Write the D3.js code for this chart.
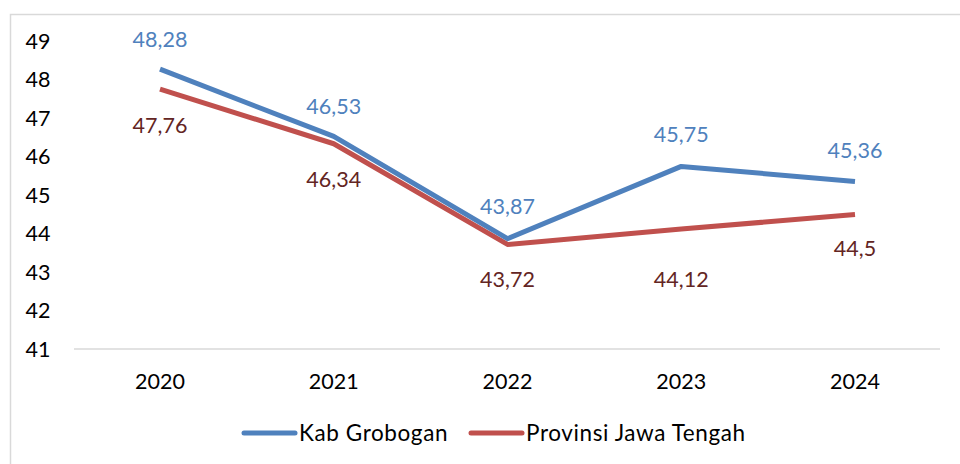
<!DOCTYPE html>
<html>
<head>
<meta charset="utf-8">
<script src="https://cdn.jsdelivr.net/npm/d3@7"></script>
<style>
  body { margin: 0; background: #fff; }
  text { font-family: Lato, "Open Sans", sans-serif; }
</style>
</head>
<body>
<svg id="chart" width="960" height="464"></svg>
<script>
var years = ["2020", "2021", "2022", "2023", "2024"];
var grobogan = [48.28, 46.53, 43.87, 45.75, 45.36];
var jateng = [47.76, 46.34, 43.72, 44.12, 44.5];
var yTicks = [41, 42, 43, 44, 45, 46, 47, 48, 49];

var fontSize = 21.5;
var svg = d3.select("#chart");

// outer chart border (runs off the right/bottom edge)
svg.append("rect")
    .attr("x", 10.5).attr("y", 14.5)
    .attr("width", 980).attr("height", 500)
    .attr("fill", "none")
    .attr("stroke", "#d9d9d9")
    .attr("stroke-width", 1.5);

var x = d3.scalePoint()
    .domain(years)
    .range([160, 855]);

var y = d3.scaleLinear()
    .domain([41, 49])
    .range([349, 41.5]);

// y labels
svg.append("g").selectAll("text")
    .data(yTicks)
    .enter().append("text")
    .attr("x", 38)
    .attr("y", function(d) { return y(d); })
    .attr("dy", "0.35em")
    .attr("text-anchor", "middle")
    .attr("font-size", fontSize)
    .attr("fill", "#000")
    .text(function(d) { return d; });

// x axis line
svg.append("line")
    .attr("x1", 74).attr("x2", 940)
    .attr("y1", y(41)).attr("y2", y(41))
    .attr("stroke", "#d9d9d9")
    .attr("stroke-width", 1.5);

svg.append("g").selectAll("text")
    .data(years)
    .enter().append("text")
    .attr("x", function(d) { return x(d); })
    .attr("y", 381)
    .attr("dy", "0.35em")
    .attr("text-anchor", "middle")
    .attr("font-size", fontSize)
    .attr("fill", "#000")
    .text(function(d) { return d; });

var line = d3.line()
    .x(function(d, i) { return x(years[i]); })
    .y(function(d) { return y(d); });

var series = [
  {name: "Kab Grobogan", values: grobogan, color: "#4f81bd", label: "#4f81bd", dy: [-30, -30, -32, -32, -31]},
  {name: "Provinsi Jawa Tengah", values: jateng, color: "#c0504d", label: "#632523", dy: [36, 36, 35, 50, 34]}
];

// draw red first so blue sits on top
series.slice().reverse().forEach(function(s) {
  svg.append("path")
      .datum(s.values)
      .attr("d", line)
      .attr("fill", "none")
      .attr("stroke", s.color)
      .attr("stroke-width", 5)
      .attr("stroke-linejoin", "round");
});

series.forEach(function(s) {
  svg.append("g").selectAll("text")
      .data(s.values)
      .enter().append("text")
      .attr("x", function(d, i) { return x(years[i]); })
      .attr("y", function(d, i) { return y(d) + s.dy[i]; })
      .attr("dy", "0.35em")
      .attr("text-anchor", "middle")
      .attr("font-size", fontSize)
      .attr("fill", s.label)
      .text(function(d) { return String(d).replace(".", ","); });
});

// legend
var legendX = [242, 469];
series.forEach(function(s, i) {
  var g = svg.append("g").attr("transform", "translate(" + legendX[i] + ",433)");
  g.append("line")
      .attr("x1", 2).attr("x2", 53)
      .attr("stroke", s.color)
      .attr("stroke-width", 5)
      .attr("stroke-linecap", "round");
  g.append("text")
      .attr("x", 57)
      .attr("dy", "0.35em")
      .attr("font-size", 22.5)
      .attr("letter-spacing", 0.6)
      .attr("fill", "#000")
      .text(s.name);
});
</script>
</body>
</html>
